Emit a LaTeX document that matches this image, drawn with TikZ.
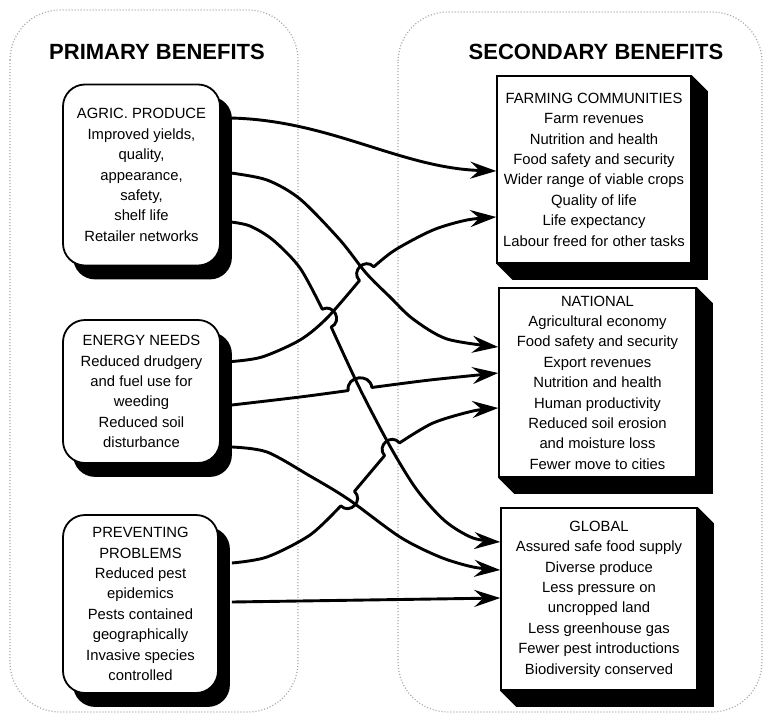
\documentclass[tikz,border=0pt]{standalone}
\usepackage{fontspec}
\setmainfont{Liberation Sans}
\usetikzlibrary{arrows.meta,calc,backgrounds}
\tikzset{
  lbox/.style={draw, line width=1.8pt, fill=white, rounded corners=22pt, align=center,
    font=\fontsize{14.8}{20.4}\selectfont, inner sep=0pt},
  rbox/.style={draw, line width=1.5pt, fill=white, align=center,
    font=\fontsize{14.8}{20.4}\selectfont, inner sep=0pt},
  titletext/.style={font=\fontsize{22}{26}\selectfont\bfseries},
  conn/.style={line width=2.9pt, line join=round, -{Stealth[length=26pt,width=17pt,inset=9pt]}},
  panel/.style={draw=black!35, line width=1.2pt, dash pattern=on 1pt off 2pt, rounded corners=50pt},
}
\begin{document}
\begin{tikzpicture}[x=1pt,y=-1pt]
\useasboundingbox (0,0) rectangle (768,718);

% titles
\node[titletext] (ttl1) at (157,52) {PRIMARY BENEFITS};
\node[titletext] (ttl2) at (596,52) {SECONDARY BENEFITS};

% primary boxes
\node[lbox, minimum width=157pt, minimum height=181pt] (agric) at (141.5,175)
  {AGRIC. PRODUCE\\Improved yields,\\quality,\\appearance,\\safety,\\shelf life\\Retailer networks};
\node[lbox, minimum width=157pt, minimum height=143pt] (energy) at (141.5,391.5)
  {ENERGY NEEDS\\Reduced drudgery\\and fuel use for\\weeding\\Reduced soil\\disturbance};
\node[lbox, minimum width=155pt, minimum height=178pt] (prev) at (140.5,604)
  {PREVENTING\\PROBLEMS\\Reduced pest\\epidemics\\Pests contained\\geographically\\Invasive species\\controlled};

% secondary boxes
\node[rbox, minimum width=194pt, minimum height=187pt] (farm) at (594,169.5)
  {FARMING COMMUNITIES\\Farm revenues\\Nutrition and health\\Food safety and security\\Wider range of viable crops\\Quality of life\\Life expectancy\\Labour freed for other tasks};
\node[rbox, minimum width=197pt, minimum height=189pt] (nat) at (597.5,382.5)
  {NATIONAL\\Agricultural economy\\Food safety and security\\Export revenues\\Nutrition and health\\Human productivity\\Reduced soil erosion\\and moisture loss\\Fewer move to cities};
\node[rbox, minimum width=196pt, minimum height=182pt] (glob) at (599,599)
  {GLOBAL\\Assured safe food supply\\Diverse produce\\Less pressure on\\uncropped land\\Less greenhouse gas\\Fewer pest introductions\\Biodiversity conserved};

% background panels and shadows
\begin{scope}[on background layer]
  \draw[panel] (10,10) rectangle (298,712);
  \draw[panel] (398,12) rectangle (762,712);
  \foreach \n in {agric,energy,prev}{
    \fill[rounded corners=22pt] ($(\n.south west)+(11,13)$) rectangle ($(\n.north east)+(11,13)$);
  }
  \foreach \n in {farm,nat,glob}{
    \fill (\n.north east) -- ($(\n.north east)+(16,16)$) -- ($(\n.south east)+(16,16)$)
      -- ($(\n.south west)+(16,16)$) -- (\n.south west) -- cycle;
  }
\end{scope}

% connector end points
\coordinate (a1s) at ($(agric.east)+(9,-57)$);
\coordinate (a2s) at ($(agric.east)+(10,-2)$);
\coordinate (a3s) at ($(agric.east)+(10,47)$);
\coordinate (e1s) at ($(energy.east)+(11,-30)$);
\coordinate (e2s) at ($(energy.east)+(11,13.5)$);
\coordinate (e3s) at ($(energy.east)+(11,55.5)$);
\coordinate (p1s) at ($(prev.east)+(13,-41)$);
\coordinate (p2s) at ($(prev.east)+(13,-2)$);
\coordinate (a1e) at ($(farm.west)+(0,1.5)$);
\coordinate (e1e) at ($(farm.west)+(0,47.5)$);
\coordinate (a2e) at ($(nat.west)+(0,-35.5)$);
\coordinate (e2e) at ($(nat.west)+(0,-9.5)$);
\coordinate (p1e) at ($(nat.west)+(0,25.5)$);
\coordinate (a3e) at ($(glob.west)+(0,-57)$);
\coordinate (e3e) at ($(glob.west)+(0,-29)$);
\coordinate (p2e) at ($(glob.west)+(0,-1)$);

% crossings
\coordinate (X1) at (327,318);
\coordinate (X2) at (366,273);
\coordinate (X3) at (360,389);
\coordinate (X4) at (391,448);
\coordinate (X5) at (348,499);
\coordinate (X1a) at ($(X1)!10pt!(300,268)$);
\coordinate (X1b) at ($(X1)!10pt!(X3)$);
\coordinate (X2a) at ($(X2)!10pt!(X1)$);
\coordinate (X2b) at ($(X2)!10pt!(395,250)$);
\coordinate (X3a) at ($(X3)!12pt!(300,397)$);
\coordinate (X3b) at ($(X3)!12pt!(430,380)$);
\coordinate (X5a) at ($(X5)!10pt!(310,535)$);
\coordinate (X5b) at ($(X5)!10pt!(X4)$);
\coordinate (X4a) at ($(X4)!10pt!(X5)$);
\coordinate (X4b) at ($(X4)!10pt!(433,423)$);

% connectors
\draw[conn] (a1s) .. controls (330,120) and (400,168) .. (a1e);
\draw[conn] plot[smooth] coordinates {(a2s) (267,180) (300,199) (340,240) (X2) (390,297) (413,319) (447,339) (a2e)};
\draw[conn] plot[smooth] coordinates {(a3s) (250,226) (273,240) (300,268) (X1a)}
  .. controls ($(X1a)!13pt!90:(X1b)$) and ($(X1b)!13pt!-90:(X1a)$) .. (X1b)
  -- plot[smooth] coordinates {(X1b) (X3) (X4) (417,490) (445,521) (473,538) (a3e)};
\draw[conn] plot[smooth] coordinates {(e1s) (262,357) (300,340) (X1) (X2a)}
  .. controls ($(X2a)!13pt!90:(X2b)$) and ($(X2b)!13pt!-90:(X2a)$) .. (X2b)
  -- plot[smooth] coordinates {(X2b) (395,250) (433,230) (467,220) (e1e)};
\draw[conn] plot[smooth] coordinates {(e2s) (300,397) (X3a)}
  .. controls ($(X3a)!15pt!90:(X3b)$) and ($(X3b)!15pt!-90:(X3a)$) .. (X3b)
  -- plot[smooth] coordinates {(X3b) (430,380) (e2e)};
\draw[conn] plot[smooth] coordinates {(e3s) (267,452) (310,476) (X5) (400,537) (440,557) (473,567) (e3e)};
\draw[conn] plot[smooth] coordinates {(p1s) (267,557) (310,535) (X5a)}
  .. controls ($(X5a)!13pt!-90:(X5b)$) and ($(X5b)!13pt!90:(X5a)$) .. (X5b)
  -- (X4a)
  .. controls ($(X4a)!13pt!90:(X4b)$) and ($(X4b)!13pt!-90:(X4a)$) .. (X4b)
  -- plot[smooth] coordinates {(X4b) (433,423) (473,411) (p1e)};
\draw[conn] (p2s) -- (p2e);
\end{tikzpicture}
\end{document}
